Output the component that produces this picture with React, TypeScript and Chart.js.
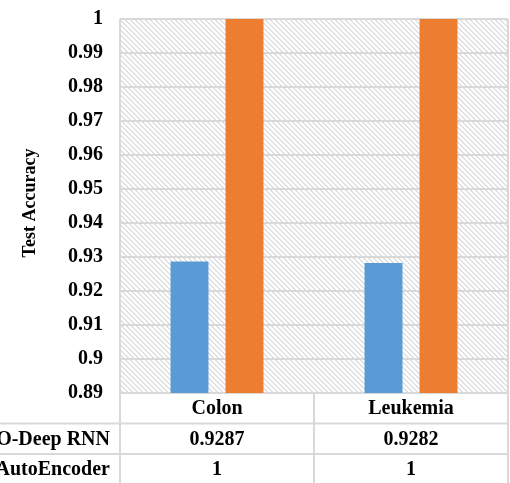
import React, { useEffect, useRef } from "react";
import { Chart, registerables } from "chart.js";

Chart.register(...registerables);

const categories = ["Colon", "Leukemia"];
const seriesNames = ["O-Deep RNN", "AutoEncoder"];
const deepRnnValues = [0.9287, 0.9282];
const autoEncoderValues = [1, 1];
const deepRnnLabels = ["0.9287", "0.9282"];
const autoEncoderLabels = ["1", "1"];
const yTickValues = [0.89, 0.9, 0.91, 0.92, 0.93, 0.94, 0.95, 0.96, 0.97, 0.98, 0.99, 1];
const yTitle = "Test Accuracy";

const FONT = "'Liberation Serif', 'Times New Roman', serif";
const GRID = "#d9d9d9";
const BLUE = "#5b9bd5";
const ORANGE = "#ed7d31";

function makePattern(ctx: CanvasRenderingContext2D) {
  const n = 5;
  const c = document.createElement("canvas");
  c.width = n;
  c.height = n;
  const p = c.getContext("2d")!;
  p.fillStyle = "#ffffff";
  p.fillRect(0, 0, n, n);
  p.fillStyle = "#e0e0e0";
  for (let i = 0; i < n; i++) {
    p.fillRect(i, i, 1, 1);
    p.fillRect((i + 1) % n, i, 1, 1);
  }
  return ctx.createPattern(c, "repeat");
}

const tablePlugin = {
  id: "tablePlugin",
  beforeDraw(chart: any) {
    const { ctx, chartArea } = chart;
    const pat = makePattern(ctx);
    ctx.save();
    ctx.fillStyle = pat;
    ctx.fillRect(chartArea.left, chartArea.top, chartArea.right - chartArea.left, chartArea.bottom - chartArea.top);
    ctx.restore();
  },
  afterDraw(chart: any) {
    const { ctx, chartArea } = chart;
    const x = chart.scales.x;
    const H = chart.height;
    const left = chartArea.left;
    const right = chartArea.right;
    const bottom = chartArea.bottom;
    const rowH = 30.5;
    const r1 = bottom + rowH;
    const r2 = bottom + rowH * 2;
    const c0 = x.getPixelForValue(0);
    const c1 = x.getPixelForValue(1);
    const mid = (c0 + c1) / 2;

    ctx.save();
    ctx.strokeStyle = GRID;
    ctx.lineWidth = 2;
    ctx.beginPath();
    ctx.moveTo(0, r1);
    ctx.lineTo(right, r1);
    ctx.moveTo(0, r2);
    ctx.lineTo(right, r2);
    ctx.moveTo(left, chartArea.top);
    ctx.lineTo(left, H);
    ctx.moveTo(right, chartArea.top);
    ctx.lineTo(right, H);
    ctx.moveTo(mid, bottom);
    ctx.lineTo(mid, H);
    ctx.stroke();

    ctx.fillStyle = "#000";
    ctx.font = `bold 20px ${FONT}`;
    ctx.textBaseline = "middle";
    ctx.textAlign = "center";
    categories.forEach((c, i) => {
      const cx = x.getPixelForValue(i);
      ctx.fillText(c, cx, bottom + rowH / 2 + 1);
      ctx.fillText(deepRnnLabels[i], cx, r1 + rowH / 2 + 1);
      ctx.fillText(autoEncoderLabels[i], cx, r2 + rowH / 2 + 1);
    });
    ctx.textAlign = "right";
    ctx.fillText(seriesNames[0], 110, r1 + rowH / 2 + 1);
    ctx.fillText(seriesNames[1], 110, r2 + rowH / 2 + 1);

    ctx.translate(30, 203);
    ctx.rotate(-Math.PI / 2);
    ctx.textAlign = "center";
    ctx.font = `bold 18px ${FONT}`;
    ctx.fillText(yTitle, 0, 0);
    ctx.restore();
  },
};

export default function App() {
  const ref = useRef<HTMLCanvasElement>(null);
  useEffect(() => {
    const chart = new Chart(ref.current!, {
      type: "bar",
      data: {
        labels: categories,
        datasets: [
          { label: seriesNames[0], data: deepRnnValues, backgroundColor: BLUE },
          { label: seriesNames[1], data: autoEncoderValues, backgroundColor: ORANGE },
        ],
      },
      options: {
        responsive: false,
        animation: false,
        layout: { padding: { top: 19, right: 2, left: 0, bottom: 0 } },
        datasets: { bar: { categoryPercentage: 0.567, barPercentage: 0.69 } },
        plugins: { legend: { display: false }, tooltip: { enabled: false } },
        scales: {
          x: {
            grid: { display: false },
            border: { display: false },
            ticks: { display: false },
            afterFit: (s: any) => {
              s.height = 90;
              s.paddingLeft = 0;
              s.paddingRight = 0;
            },
          },
          y: {
            min: 0.89,
            max: 1,
            afterBuildTicks: (s: any) => {
              s.ticks = yTickValues.map((v) => ({ value: v }));
            },
            afterFit: (s: any) => {
              s.width = 120;
              s.paddingTop = 0;
              s.paddingBottom = 0;
            },
            grid: { color: GRID, lineWidth: 2, drawTicks: false },
            border: { display: false },
            ticks: {
              padding: 17,
              color: "#000",
              font: { family: FONT, size: 20, weight: "bold" },
              callback: (v: any) => String(Number(Number(v).toFixed(2))),
            },
          },
        },
      },
      plugins: [tablePlugin],
    } as any);
    return () => chart.destroy();
  }, []);
  return (
    <div style={{ position: "fixed", left: 0, top: 0, width: 510, height: 483, background: "#fff" }}>
      <canvas ref={ref} width={510} height={483} style={{ display: "block" }} />
    </div>
  );
}
